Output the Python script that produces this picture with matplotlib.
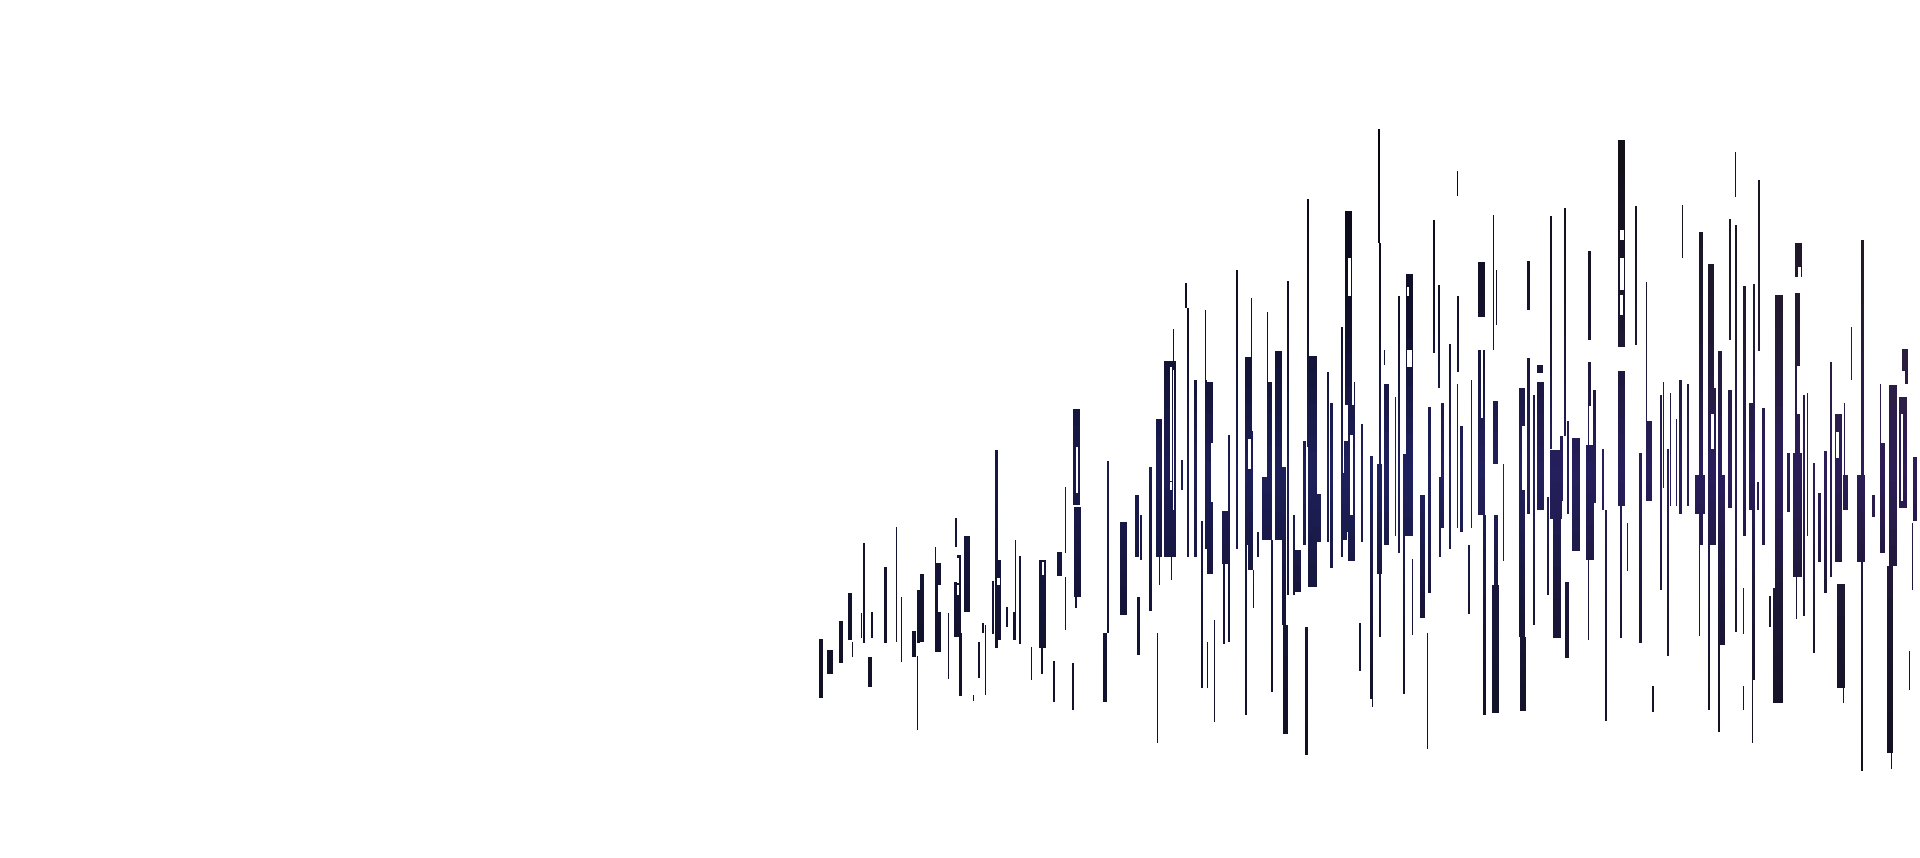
import numpy as np
import matplotlib.pyplot as plt
from matplotlib.colors import to_rgb

# each stroke: left, right, high, low
early_left = [819, 827, 839, 848, 852, 861, 863, 868, 871, 884, 896, 901, 912, 917, 920, 917, 935, 935, 948, 954, 957, 955,
              959, 964, 973, 978, 982, 985, 992, 995, 998, 1006, 1013, 1015, 1019, 1031, 1039, 1039, 1041, 1053, 1057,
              1065, 1065, 1072, 1073, 1074, 1075, 1103, 1107, 1120, 1135, 1137, 1140, 1149]
early_right = [823, 833, 843, 852, 853, 862, 865, 872, 873, 887, 897, 902, 916, 920, 924, 918, 941, 936, 949, 961, 961, 957,
               962, 970, 974, 980, 984, 986, 994, 998, 1001, 1008, 1016, 1016, 1021, 1032, 1046, 1046, 1043, 1055, 1062,
               1066, 1066, 1074, 1080, 1081, 1077, 1107, 1109, 1127, 1139, 1140, 1142, 1152]
early_high = [639, 650, 621, 593, 642, 613, 543, 657, 612, 567, 527, 597, 631, 590, 574, 656, 563, 547, 613, 582, 555, 518,
              633, 536, 695, 642, 623, 625, 581, 450, 560, 607, 612, 540, 556, 647, 560, 579, 648, 661, 552,
              487, 577, 663, 409, 507, 597, 633, 461, 522, 495, 597, 515, 467]
early_low = [698, 674, 663, 640, 657, 638, 643, 687, 638, 643, 642, 662, 657, 643, 642, 730, 652, 563, 679, 637, 583, 547,
             696, 612, 701, 678, 633, 695, 634, 648, 640, 627, 640, 612, 644, 680, 580, 648, 674, 702, 576,
             553, 630, 710, 505, 597, 608, 702, 633, 615, 557, 655, 560, 611]

mid_left = [1156, 1159, 1157, 1164, 1173, 1171, 1181, 1185, 1187, 1194, 1201, 1205, 1205, 1207, 1207, 1214, 1222, 1223,
            1228, 1236, 1245, 1251, 1248, 1245, 1253, 1257, 1267, 1262, 1267, 1271, 1275, 1282, 1283, 1287, 1293, 1293,
            1303, 1307, 1308, 1313, 1305, 1327, 1330, 1341, 1341, 1344, 1345, 1348, 1354, 1361, 1359, 1370, 1372, 1378,
            1379, 1377, 1384, 1384, 1395, 1398, 1403, 1406, 1412, 1403, 1420, 1427, 1428, 1433, 1438, 1441, 1439, 1449,
            1457, 1457, 1457, 1460, 1468, 1471, 1478, 1478, 1483, 1493, 1496, 1493, 1492, 1494, 1503, 1519, 1520]
mid_right = [1162, 1160, 1158, 1176, 1174, 1172, 1183, 1187, 1188, 1197, 1203, 1206, 1207, 1213, 1208, 1215, 1228, 1225,
             1229, 1238, 1252, 1252, 1253, 1247, 1254, 1259, 1268, 1272, 1272, 1273, 1282, 1286, 1288, 1289, 1295, 1301,
             1306, 1309, 1317, 1321, 1308, 1329, 1333, 1342, 1347, 1349, 1352, 1355, 1355, 1363, 1361, 1373, 1373, 1380,
             1380, 1382, 1389, 1385, 1396, 1400, 1413, 1413, 1413, 1404, 1425, 1428, 1431, 1435, 1440, 1444, 1441, 1450,
             1459, 1458, 1458, 1463, 1470, 1472, 1485, 1485, 1486, 1494, 1497, 1498, 1499, 1498, 1504, 1525, 1526]
mid_high = [419, 557, 633, 361, 329, 557, 460, 283, 308, 380, 521, 310, 380, 382, 642, 620, 511, 564,
            435, 270, 357, 298, 431, 545, 570, 532, 312, 477, 382, 540, 351, 467, 625, 281, 515, 550,
            441, 199, 356, 494, 627, 372, 403, 327, 473, 441, 211, 405, 382, 424, 623, 456, 699, 129,
            243, 464, 384, 350, 397, 296, 454, 274, 559, 536, 495, 633, 407, 220, 285, 403, 477, 344,
            296, 171, 384, 426, 545, 380, 262, 350, 515, 215, 270, 401, 585, 515, 464, 388, 637]
mid_low = [557, 585, 743, 557, 361, 580, 490, 308, 557, 557, 688, 380, 549, 574, 688, 722, 564, 644,
           642, 549, 545, 357, 570, 715, 608, 557, 384, 540, 477, 692, 540, 625, 734, 595, 595, 592,
           545, 447, 587, 542, 755, 542, 568, 557, 540, 532, 405, 561, 532, 542, 671, 699, 707, 243,
           637, 574, 545, 365, 536, 553, 536, 509, 635, 694, 618, 749, 593, 353, 388, 528, 557, 549,
           372, 196, 528, 532, 614, 528, 317, 515, 715, 350, 325, 464, 713, 585, 561, 637, 711]

late_left = [1527, 1527, 1533, 1537, 1537, 1547, 1550, 1550, 1553, 1560, 1564, 1565, 1567, 1572, 1586, 1588, 1588, 1593, 1588,
             1602, 1605, 1618, 1618, 1620, 1627, 1635, 1639, 1646, 1646, 1652, 1660, 1663, 1667, 1670, 1676, 1679, 1682,
             1687, 1695, 1699, 1699, 1708, 1708, 1708, 1718, 1719, 1718, 1729, 1728, 1735, 1735, 1735, 1743, 1743, 1743,
             1749, 1752, 1752, 1753, 1758, 1757, 1762, 1769, 1775, 1773, 1787, 1795, 1793, 1795, 1796, 1803, 1807, 1813, 1818,
             1824, 1830, 1835, 1837, 1843, 1844, 1843, 1851, 1857, 1861, 1861, 1872, 1880, 1880, 1889, 1887, 1891, 1899,
             1902, 1909, 1912, 1913]
late_right = [1530, 1530, 1534, 1544, 1543, 1549, 1552, 1562, 1561, 1563, 1565, 1569, 1569, 1580, 1594, 1591, 1591, 1596, 1589,
              1604, 1607, 1625, 1625, 1622, 1628, 1637, 1642, 1652, 1647, 1654, 1661, 1664, 1668, 1671, 1677, 1682, 1683,
              1689, 1705, 1703, 1700, 1709, 1716, 1714, 1722, 1725, 1720, 1731, 1732, 1736, 1736, 1737, 1746, 1744, 1744,
              1755, 1755, 1753, 1755, 1760, 1759, 1765, 1771, 1783, 1781, 1790, 1800, 1802, 1802, 1797, 1805, 1808, 1815, 1821,
              1827, 1831, 1842, 1845, 1844, 1845, 1848, 1852, 1865, 1864, 1862, 1875, 1885, 1881, 1897, 1893, 1892, 1907,
              1908, 1910, 1913, 1917]
late_high = [261, 358, 395, 382, 365, 497, 216, 450, 519, 436, 208, 582, 421, 438, 445, 251, 362, 390, 560,
             449, 510, 140, 371, 506, 523, 206, 453, 421, 282, 686, 395, 382, 449, 393, 419, 380, 205,
             384, 475, 232, 545, 545, 388, 264, 351, 475, 645, 219, 390, 152, 225, 297, 286, 588, 686,
             403, 510, 680, 284, 180, 482, 408, 596, 295, 588, 453, 293, 453, 243, 577, 395, 393, 463, 493,
             451, 362, 414, 584, 688, 403, 475, 327, 475, 240, 562, 495, 443, 384, 385, 566, 753, 397,
             349, 651, 523, 457]
late_low = [310, 514, 625, 510, 373, 595, 449, 519, 638, 501, 436, 658, 514, 551, 560, 340, 445, 503, 640,
            510, 721, 347, 506, 638, 571, 345, 643, 501, 421, 712, 590, 488, 656, 506, 506, 514, 258,
            506, 514, 545, 636, 710, 545, 388, 645, 645, 732, 340, 508, 197, 458, 632, 536, 634, 710,
            510, 680, 743, 406, 351, 510, 545, 627, 703, 703, 512, 453, 577, 277, 619, 616, 536, 653, 562,
            593, 577, 562, 688, 703, 501, 510, 380, 562, 562, 771, 517, 553, 445, 566, 753, 769, 508,
            384, 690, 590, 521]

# white slits that cut through the strokes
gap_left = [938, 957, 957, 1076, 997, 1042, 1170, 1173, 1170, 1211, 1248, 1348, 1350, 1407, 1407, 1481, 1522, 1589, 1620,
            1620, 1620, 1798, 1797, 1711, 1902, 1836, 1901]
gap_right = [942, 959, 959, 1078, 1000, 1044, 1172, 1174, 1172, 1213, 1251, 1351, 1353, 1412, 1409, 1483, 1525, 1591, 1624,
             1624, 1623, 1801, 1800, 1714, 1905, 1839, 1903]
gap_high = [585, 558, 585, 447, 578, 562, 482, 370, 367, 443, 439, 258, 435, 350, 287, 350, 426, 406, 230,
            258, 295, 267, 366, 414, 371, 432, 414]
gap_low = [612, 583, 595, 493, 585, 575, 490, 510, 481, 502, 469, 296, 515, 367, 296, 418, 490, 445, 240,
           290, 315, 277, 414, 449, 384, 458, 501]

left = np.array(early_left + mid_left + late_left, dtype=float)
right = np.array(early_right + mid_right + late_right, dtype=float)
high = np.array(early_high + mid_high + late_high, dtype=float)
low = np.array(early_low + mid_low + late_low, dtype=float)

# colour anchors: rows go top to bottom, columns left to right
shade_x = [800, 1100, 1400, 1700, 1920]
shade_y = [130, 330, 470, 600, 770]
shade_rows = [["#06060f", "#06060f", "#06060f", "#171218", "#1d1418"],
              ["#0d0d20", "#0f0f28", "#11112e", "#1f1830", "#2a1e38"],
              ["#12122e", "#1a1b4e", "#1f2260", "#2a1d5c", "#2f1c58"],
              ["#12122a", "#14143a", "#16163a", "#1c1838", "#1d1730"],
              ["#101020", "#101020", "#101020", "#121020", "#121020"]]
shade = np.array([[to_rgb(c) for c in row] for row in shade_rows])


def stroke_colour(x, y):
    by_row = [[np.interp(x, shade_x, shade[r, :, c]) for c in range(3)] for r in range(len(shade_y))]
    by_row = np.array(by_row)
    return [np.interp(y, shade_y, by_row[:, c]) for c in range(3)]


# cut strokes in short pieces so the colour can drift along them
piece_x, piece_w, piece_y, piece_h, piece_c = [], [], [], [], []
for x0, x1, y0, y1 in zip(left, right, high, low):
    # long hairlines are 2px in the reference
    w = 2 if x1 - x0 < 2 and y1 - y0 > 150 else x1 - x0
    edges = np.append(np.arange(y0, y1, 16), y1)
    for a, b in zip(edges[:-1], edges[1:]):
        piece_x.append(x0)
        piece_w.append(w)
        piece_y.append(a)
        piece_h.append(b - a)
        piece_c.append(stroke_colour((x0 + x1) / 2, (a + b) / 2))

fig = plt.figure(figsize=(19.2, 8.58), dpi=100)
ax = fig.add_axes([0, 0, 1, 1])

ax.bar(piece_x, piece_h, width=piece_w, bottom=piece_y, align="edge", color=piece_c, linewidth=0, antialiased=False)
ax.bar(gap_left, np.array(gap_low) - np.array(gap_high), width=np.array(gap_right) - np.array(gap_left),
       bottom=gap_high, align="edge", color="white", linewidth=0, antialiased=False)

ax.set_xlim(0, 1920)
ax.set_ylim(858, 0)
ax.axis("off")

plt.savefig("out.png", dpi=100, facecolor="white")
plt.close()
